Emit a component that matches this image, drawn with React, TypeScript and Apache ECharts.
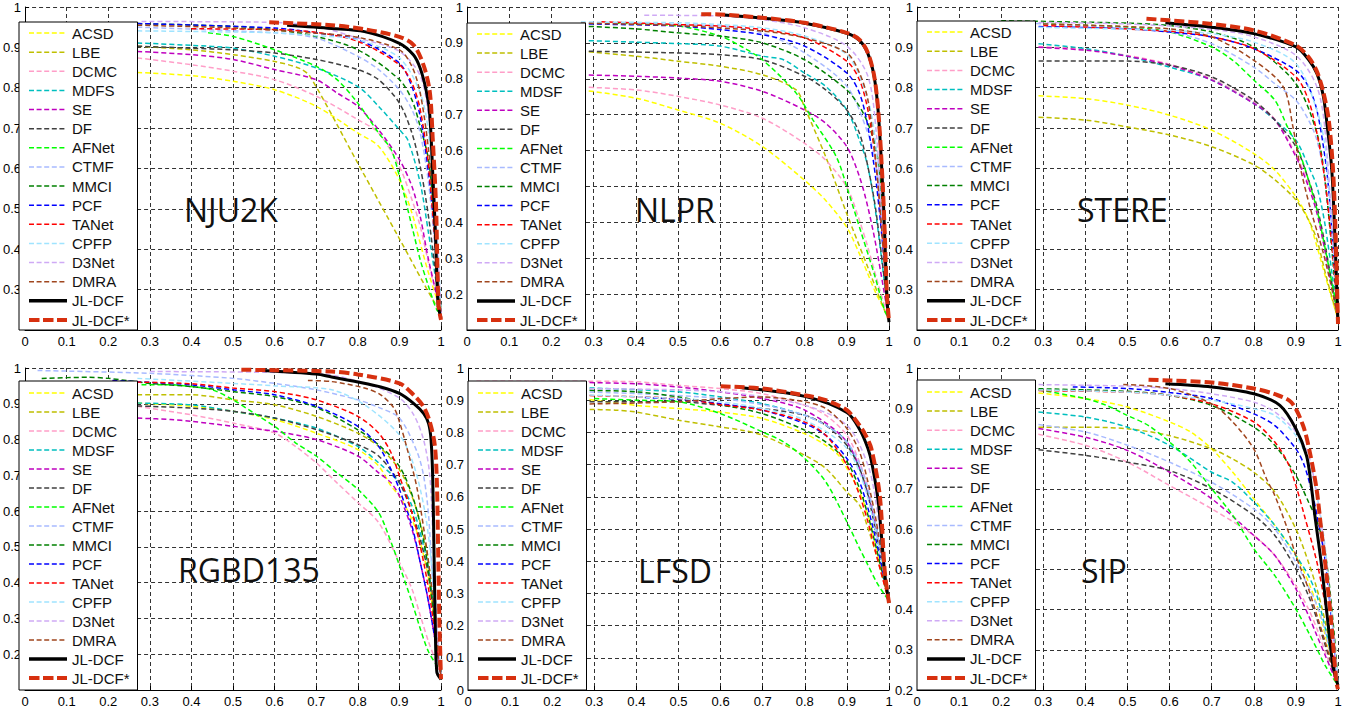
import React, { useEffect, useRef } from "react";
import * as echarts from "echarts";

// ---------- DATA ----------
const methods = ["ACSD", "LBE", "DCMC", "MDSF", "SE", "DF", "AFNet", "CTMF", "MMCI", "PCF", "TANet", "CPFP", "D3Net", "DMRA", "JL-DCF", "JL-DCF*"];
// NJU2K panel legend spells it "MDFS"
const methodsNJU2K = ["ACSD", "LBE", "DCMC", "MDFS", "SE", "DF", "AFNet", "CTMF", "MMCI", "PCF", "TANet", "CPFP", "D3Net", "DMRA", "JL-DCF", "JL-DCF*"];
const datasets = ["NJU2K", "NLPR", "STERE", "RGBD135", "LFSD", "SIP"];
const yMins = [0.2, 0.1, 0.2, 0.1, 0, 0.2];
const hideYMinLabel = [true, true, true, true, false, false];
const xTicks = [0, 0.1, 0.2, 0.3, 0.4, 0.5, 0.6, 0.7, 0.8, 0.9, 1];

// each curve: [recall, precision] points, in the order of `methods`
const nju2k = [
  [[0.27,0.838],[0.4,0.83],[0.5,0.816],[0.6,0.795],[0.7,0.754],[0.8,0.688],[0.85,0.655],[0.9,0.572],[0.93,0.49],[0.95,0.415],[0.97,0.341],[1,0.246]],
  [[0.27,0.903],[0.4,0.894],[0.5,0.882],[0.6,0.865],[0.66,0.848],[0.685,0.828],[0.8,0.613],[0.9,0.426],[0.99,0.258],[1,0.25]],
  [[0.27,0.874],[0.4,0.857],[0.5,0.841],[0.6,0.82],[0.7,0.779],[0.8,0.721],[0.85,0.688],[0.9,0.605],[0.93,0.523],[0.95,0.457],[0.97,0.366],[1,0.242]],
  [[0.27,0.911],[0.4,0.905],[0.5,0.898],[0.6,0.878],[0.7,0.849],[0.8,0.803],[0.85,0.754],[0.9,0.696],[0.92,0.671],[0.95,0.564],[0.97,0.44],[1,0.242]],
  [[0.27,0.89],[0.4,0.882],[0.5,0.87],[0.6,0.845],[0.7,0.82],[0.75,0.787],[0.8,0.754],[0.85,0.696],[0.9,0.622],[0.93,0.556],[0.95,0.481],[0.97,0.374],[1,0.242]],
  [[0.27,0.903],[0.4,0.898],[0.5,0.894],[0.6,0.886],[0.7,0.87],[0.8,0.845],[0.85,0.82],[0.9,0.762],[0.93,0.688],[0.95,0.605],[0.97,0.481],[0.99,0.316],[1,0.242]],
  [[0.44,0.936],[0.5,0.927],[0.6,0.894],[0.7,0.853],[0.75,0.82],[0.8,0.762],[0.85,0.688],[0.88,0.647],[0.9,0.581],[0.93,0.457],[0.95,0.374],[0.97,0.308],[0.99,0.25],[1,0.242]],
  [[0.27,0.95],[0.6,0.936],[0.7,0.923],[0.8,0.878],[0.85,0.845],[0.9,0.795],[0.93,0.746],[0.95,0.688],[0.97,0.564],[0.99,0.358],[1,0.242]],
  [[0.27,0.959],[0.5,0.952],[0.6,0.944],[0.7,0.927],[0.8,0.894],[0.9,0.82],[0.93,0.77],[0.95,0.704],[0.97,0.622],[0.98,0.523],[1,0.25]],
  [[0.27,0.959],[0.6,0.948],[0.7,0.936],[0.8,0.919],[0.9,0.861],[0.93,0.803],[0.95,0.729],[0.97,0.589],[0.985,0.44],[1,0.234]],
  [[0.4,0.946],[0.6,0.944],[0.7,0.937],[0.8,0.915],[0.9,0.857],[0.93,0.812],[0.95,0.746],[0.97,0.605],[0.99,0.358],[1,0.234]],
  [[0.27,0.941],[0.5,0.938],[0.6,0.936],[0.7,0.929],[0.8,0.919],[0.9,0.874],[0.95,0.787],[0.97,0.688],[0.99,0.44],[1,0.242]],
  [[0.28,0.964],[0.6,0.962],[0.7,0.952],[0.8,0.923],[0.9,0.89],[0.95,0.83],[0.97,0.729],[0.98,0.605],[1,0.242]],
  [[0.27,0.955],[0.5,0.948],[0.7,0.935],[0.8,0.925],[0.9,0.894],[0.93,0.853],[0.95,0.787],[0.97,0.647],[0.98,0.523],[0.99,0.358],[1,0.242]],
  [[0.63,0.955],[0.737,0.947],[0.816,0.939],[0.9,0.91],[0.934,0.881],[0.95,0.848],[0.965,0.79],[0.973,0.733],[0.98,0.592],[0.987,0.428],[0.993,0.262],[1,0.23]],
  [[0.587,0.962],[0.737,0.955],[0.816,0.945],[0.9,0.926],[0.934,0.906],[0.958,0.856],[0.973,0.79],[0.98,0.676],[0.988,0.51],[0.994,0.262],[1,0.225]],
];

const nlpr = [
  [[0.27,0.769],[0.4,0.746],[0.5,0.713],[0.6,0.676],[0.7,0.611],[0.8,0.517],[0.85,0.461],[0.9,0.386],[0.93,0.312],[0.95,0.256],[0.97,0.2],[1,0.134]],
  [[0.27,0.877],[0.4,0.863],[0.5,0.849],[0.6,0.835],[0.7,0.811],[0.78,0.769],[0.8,0.72],[0.85,0.583],[0.9,0.424],[0.95,0.274],[0.99,0.153],[1,0.13]],
  [[0.27,0.777],[0.4,0.769],[0.5,0.751],[0.6,0.727],[0.7,0.69],[0.8,0.62],[0.85,0.573],[0.9,0.498],[0.93,0.405],[0.95,0.33],[0.97,0.246],[1,0.125]],
  [[0.27,0.907],[0.4,0.902],[0.5,0.898],[0.6,0.891],[0.7,0.863],[0.75,0.853],[0.8,0.816],[0.85,0.779],[0.9,0.713],[0.93,0.629],[0.95,0.555],[0.97,0.414],[1,0.125]],
  [[0.27,0.811],[0.4,0.807],[0.5,0.802],[0.6,0.793],[0.7,0.765],[0.8,0.713],[0.85,0.676],[0.9,0.611],[0.93,0.527],[0.95,0.442],[0.97,0.33],[1,0.125]],
  [[0.27,0.877],[0.5,0.872],[0.6,0.867],[0.7,0.853],[0.8,0.807],[0.85,0.769],[0.9,0.713],[0.93,0.648],[0.95,0.555],[0.97,0.424],[1,0.125]],
  [[0.35,0.955],[0.5,0.947],[0.6,0.919],[0.65,0.89],[0.7,0.853],[0.78,0.76],[0.82,0.685],[0.875,0.583],[0.905,0.48],[0.935,0.368],[0.965,0.256],[0.99,0.153],[1,0.13]],
  [[0.27,0.955],[0.6,0.947],[0.7,0.928],[0.8,0.872],[0.9,0.779],[0.95,0.648],[0.97,0.555],[1,0.125]],
  [[0.27,0.947],[0.4,0.939],[0.5,0.928],[0.6,0.919],[0.7,0.9],[0.8,0.853],[0.9,0.769],[0.93,0.723],[0.95,0.676],[0.97,0.601],[0.98,0.508],[1,0.13]],
  [[0.27,0.953],[0.5,0.947],[0.6,0.937],[0.7,0.923],[0.8,0.891],[0.9,0.816],[0.93,0.76],[0.95,0.667],[0.97,0.508],[0.99,0.274],[1,0.125]],
  [[0.318,0.959],[0.5,0.951],[0.6,0.947],[0.7,0.937],[0.8,0.914],[0.9,0.849],[0.93,0.797],[0.95,0.713],[0.97,0.555],[0.99,0.274],[1,0.125]],
  [[0.27,0.958],[0.5,0.956],[0.6,0.951],[0.7,0.942],[0.8,0.919],[0.9,0.867],[0.95,0.741],[0.97,0.601],[1,0.125]],
  [[0.42,0.977],[0.6,0.975],[0.7,0.965],[0.8,0.942],[0.9,0.891],[0.95,0.807],[0.97,0.648],[0.98,0.461],[1,0.125]],
  [[0.27,0.955],[0.5,0.948],[0.7,0.933],[0.8,0.914],[0.9,0.872],[0.93,0.816],[0.95,0.741],[0.97,0.555],[0.99,0.274],[1,0.125]],
  [[0.61,0.978],[0.7,0.969],[0.8,0.955],[0.9,0.927],[0.93,0.907],[0.95,0.87],[0.965,0.805],[0.975,0.7],[0.985,0.5],[0.99,0.36],[0.995,0.19],[1,0.122]],
  [[0.555,0.98],[0.6,0.979],[0.7,0.97],[0.8,0.956],[0.9,0.928],[0.93,0.909],[0.95,0.872],[0.965,0.807],[0.975,0.704],[0.985,0.508],[0.99,0.368],[0.995,0.2],[1,0.125]],
];

const stere = [
  [[0.27,0.781],[0.4,0.773],[0.5,0.757],[0.6,0.732],[0.7,0.695],[0.8,0.637],[0.85,0.596],[0.9,0.53],[0.93,0.473],[0.95,0.407],[0.97,0.333],[1,0.226]],
  [[0.27,0.728],[0.4,0.72],[0.5,0.703],[0.6,0.683],[0.7,0.654],[0.8,0.609],[0.85,0.572],[0.9,0.522],[0.93,0.473],[0.95,0.423],[0.97,0.341],[1,0.226]],
  [[0.27,0.903],[0.4,0.895],[0.5,0.88],[0.6,0.858],[0.7,0.822],[0.8,0.765],[0.85,0.722],[0.9,0.635],[0.93,0.56],[0.95,0.493],[0.97,0.395],[1,0.226]],
  [[0.27,0.911],[0.4,0.897],[0.5,0.878],[0.6,0.851],[0.7,0.819],[0.8,0.761],[0.85,0.72],[0.9,0.67],[0.93,0.605],[0.95,0.555],[0.97,0.456],[1,0.226]],
  [[0.27,0.901],[0.4,0.893],[0.5,0.878],[0.6,0.856],[0.7,0.819],[0.8,0.761],[0.85,0.72],[0.9,0.629],[0.93,0.555],[0.95,0.489],[0.97,0.391],[1,0.226]],
  [[0.27,0.866],[0.4,0.866],[0.5,0.866],[0.6,0.856],[0.7,0.827],[0.8,0.769],[0.85,0.72],[0.9,0.654],[0.93,0.572],[0.95,0.506],[0.97,0.407],[1,0.226]],
  [[0.3,0.958],[0.5,0.95],[0.6,0.938],[0.7,0.901],[0.75,0.868],[0.8,0.819],[0.85,0.769],[0.88,0.703],[0.9,0.662],[0.92,0.605],[0.95,0.498],[0.97,0.399],[0.99,0.292],[1,0.226]],
  [[0.13,0.964],[0.3,0.958],[0.6,0.938],[0.7,0.909],[0.8,0.851],[0.85,0.81],[0.9,0.769],[0.93,0.72],[0.95,0.67],[0.97,0.563],[1,0.226]],
  [[0.2,0.966],[0.5,0.96],[0.6,0.954],[0.7,0.938],[0.8,0.901],[0.9,0.81],[0.95,0.687],[0.97,0.563],[1,0.226]],
  [[0.27,0.952],[0.5,0.946],[0.6,0.938],[0.7,0.926],[0.8,0.897],[0.9,0.843],[0.93,0.802],[0.95,0.744],[0.97,0.621],[0.98,0.522],[1,0.226]],
  [[0.3,0.954],[0.6,0.94],[0.7,0.926],[0.8,0.897],[0.9,0.827],[0.93,0.769],[0.95,0.687],[0.97,0.563],[0.99,0.358],[1,0.226]],
  [[0.27,0.95],[0.6,0.942],[0.7,0.934],[0.8,0.913],[0.9,0.86],[0.95,0.744],[0.97,0.646],[1,0.226]],
  [[0.27,0.962],[0.5,0.958],[0.7,0.945],[0.8,0.926],[0.9,0.88],[0.95,0.802],[0.97,0.687],[1,0.226]],
  [[0.3,0.958],[0.6,0.946],[0.7,0.926],[0.8,0.868],[0.87,0.802],[0.893,0.703],[0.91,0.605],[0.933,0.506],[0.965,0.391],[0.99,0.28],[1,0.226]],
  [[0.59,0.961],[0.7,0.95],[0.8,0.934],[0.9,0.901],[0.93,0.87],[0.95,0.835],[0.965,0.78],[0.975,0.7],[0.985,0.6],[0.992,0.45],[1,0.218]],
  [[0.545,0.971],[0.6,0.967],[0.7,0.958],[0.8,0.942],[0.9,0.905],[0.93,0.876],[0.95,0.84],[0.965,0.79],[0.978,0.72],[0.988,0.6],[0.994,0.45],[1,0.215]],
];

const rgbd135 = [
  [[0.27,0.902],[0.4,0.893],[0.5,0.879],[0.6,0.856],[0.7,0.818],[0.8,0.772],[0.85,0.726],[0.88,0.67],[0.9,0.642],[0.93,0.577],[0.95,0.513],[0.97,0.411],[1,0.142]],
  [[0.27,0.925],[0.4,0.925],[0.5,0.911],[0.6,0.897],[0.7,0.865],[0.8,0.818],[0.85,0.781],[0.9,0.716],[0.93,0.642],[0.95,0.568],[0.97,0.457],[1,0.142]],
  [[0.27,0.893],[0.4,0.869],[0.5,0.846],[0.6,0.818],[0.65,0.781],[0.7,0.735],[0.75,0.679],[0.8,0.624],[0.85,0.568],[0.9,0.457],[0.93,0.383],[0.95,0.309],[0.97,0.235],[1,0.142]],
  [[0.27,0.902],[0.4,0.897],[0.5,0.879],[0.6,0.86],[0.7,0.832],[0.8,0.781],[0.85,0.735],[0.9,0.679],[0.93,0.615],[0.95,0.54],[0.97,0.438],[1,0.142]],
  [[0.27,0.86],[0.35,0.856],[0.4,0.851],[0.5,0.837],[0.6,0.823],[0.7,0.8],[0.8,0.754],[0.85,0.707],[0.88,0.679],[0.9,0.642],[0.93,0.55],[0.95,0.457],[0.97,0.346],[1,0.142]],
  [[0.27,0.894],[0.4,0.888],[0.5,0.879],[0.6,0.86],[0.7,0.828],[0.8,0.786],[0.85,0.754],[0.9,0.679],[0.93,0.596],[0.95,0.522],[0.97,0.42],[1,0.142]],
  [[0.28,0.953],[0.35,0.953],[0.4,0.948],[0.45,0.939],[0.5,0.911],[0.55,0.874],[0.6,0.837],[0.65,0.791],[0.7,0.754],[0.75,0.707],[0.8,0.661],[0.85,0.596],[0.88,0.513],[0.9,0.448],[0.93,0.346],[0.95,0.272],[0.97,0.207],[1,0.151]],
  [[0.03,0.993],[0.3,0.985],[0.5,0.971],[0.6,0.957],[0.7,0.939],[0.8,0.911],[0.85,0.89],[0.9,0.86],[0.942,0.767],[0.958,0.7],[0.97,0.59],[0.98,0.405],[1,0.142]],
  [[0.04,0.971],[0.15,0.974],[0.2,0.971],[0.3,0.957],[0.4,0.948],[0.5,0.934],[0.6,0.92],[0.7,0.89],[0.8,0.827],[0.85,0.785],[0.9,0.725],[0.934,0.633],[0.958,0.52],[0.973,0.405],[1,0.142]],
  [[0.21,0.965],[0.4,0.953],[0.5,0.939],[0.6,0.925],[0.7,0.893],[0.8,0.837],[0.85,0.781],[0.88,0.716],[0.9,0.661],[0.93,0.559],[0.95,0.457],[0.97,0.346],[1,0.142]],
  [[0.21,0.962],[0.4,0.956],[0.5,0.944],[0.6,0.934],[0.7,0.911],[0.8,0.865],[0.85,0.818],[0.88,0.763],[0.9,0.698],[0.93,0.596],[0.95,0.503],[0.97,0.383],[1,0.142]],
  [[0.27,0.971],[0.5,0.957],[0.6,0.95],[0.737,0.939],[0.816,0.897],[0.9,0.813],[0.934,0.73],[0.958,0.618],[0.973,0.5],[1,0.142]],
  [[0.3,0.99],[0.7,0.985],[0.816,0.958],[0.9,0.916],[0.934,0.87],[0.958,0.8],[0.973,0.7],[0.98,0.543],[0.99,0.265],[1,0.142]],
  [[0.68,0.965],[0.737,0.962],[0.816,0.944],[0.855,0.925],[0.887,0.888],[0.9,0.85],[0.918,0.777],[0.942,0.666],[0.965,0.5],[0.98,0.36],[0.995,0.173],[1,0.14]],
  [[0.57,0.993],[0.7,0.983],[0.737,0.975],[0.8,0.961],[0.855,0.947],[0.9,0.929],[0.934,0.901],[0.958,0.873],[0.97,0.845],[0.976,0.8],[0.98,0.697],[0.983,0.5],[0.986,0.3],[0.99,0.15],[1,0.13]],
  [[0.52,0.995],[0.6,0.994],[0.737,0.99],[0.8,0.982],[0.9,0.957],[0.934,0.925],[0.958,0.892],[0.973,0.85],[0.985,0.785],[0.99,0.683],[0.993,0.5],[0.996,0.3],[1,0.13]],
];

const lfsd = [
  [[0.27,0.905],[0.4,0.884],[0.5,0.874],[0.6,0.863],[0.7,0.843],[0.8,0.796],[0.85,0.76],[0.88,0.729],[0.9,0.688],[0.93,0.615],[0.95,0.543],[0.97,0.44],[1,0.274]],
  [[0.27,0.872],[0.35,0.869],[0.4,0.863],[0.5,0.838],[0.6,0.817],[0.65,0.807],[0.7,0.791],[0.8,0.729],[0.85,0.688],[0.9,0.615],[0.93,0.574],[0.95,0.502],[0.97,0.419],[1,0.274]],
  [[0.02,0.959],[0.28,0.959],[0.4,0.957],[0.5,0.946],[0.6,0.936],[0.7,0.92],[0.8,0.884],[0.85,0.853],[0.9,0.791],[0.93,0.708],[0.95,0.626],[0.97,0.502],[1,0.274]],
  [[0.27,0.939],[0.5,0.926],[0.6,0.91],[0.7,0.889],[0.8,0.853],[0.85,0.822],[0.9,0.77],[0.95,0.615],[0.97,0.502],[1,0.274]],
  [[0.27,0.955],[0.4,0.951],[0.5,0.941],[0.6,0.926],[0.7,0.905],[0.8,0.869],[0.9,0.77],[0.95,0.605],[0.97,0.491],[1,0.274]],
  [[0.27,0.895],[0.4,0.895],[0.5,0.895],[0.6,0.884],[0.7,0.874],[0.8,0.853],[0.85,0.822],[0.9,0.76],[0.93,0.688],[0.95,0.605],[0.97,0.481],[1,0.274]],
  [[0.3,0.905],[0.4,0.9],[0.5,0.895],[0.6,0.858],[0.7,0.801],[0.75,0.77],[0.8,0.719],[0.85,0.646],[0.9,0.522],[0.93,0.44],[0.95,0.388],[0.97,0.336],[0.99,0.295],[1,0.279]],
  [[0.27,0.926],[0.6,0.905],[0.8,0.853],[0.9,0.77],[0.95,0.626],[1,0.274]],
  [[0.27,0.931],[0.4,0.926],[0.5,0.91],[0.6,0.886],[0.7,0.858],[0.8,0.807],[0.85,0.77],[0.9,0.708],[0.93,0.626],[0.95,0.543],[0.97,0.44],[1,0.274]],
  [[0.42,0.908],[0.5,0.903],[0.6,0.889],[0.7,0.869],[0.8,0.827],[0.85,0.791],[0.9,0.719],[0.93,0.646],[0.95,0.564],[0.97,0.46],[1,0.274]],
  [[0.27,0.915],[0.5,0.905],[0.6,0.886],[0.7,0.869],[0.8,0.832],[0.85,0.791],[0.9,0.698],[0.93,0.605],[0.95,0.522],[0.97,0.419],[1,0.274]],
  [[0.27,0.917],[0.5,0.905],[0.6,0.895],[0.7,0.874],[0.8,0.838],[0.9,0.75],[0.95,0.595],[1,0.274]],
  [[0.27,0.936],[0.6,0.926],[0.8,0.884],[0.9,0.822],[0.95,0.698],[0.97,0.574],[1,0.274]],
  [[0.27,0.888],[0.5,0.895],[0.6,0.905],[0.7,0.91],[0.8,0.895],[0.85,0.874],[0.9,0.812],[0.93,0.739],[0.95,0.646],[0.97,0.522],[1,0.274]],
  [[0.65,0.939],[0.8,0.912],[0.9,0.862],[0.93,0.81],[0.95,0.75],[0.96,0.7],[0.975,0.58],[0.99,0.36],[1,0.27]],
  [[0.6,0.943],[0.7,0.936],[0.8,0.915],[0.85,0.9],[0.9,0.869],[0.93,0.822],[0.945,0.79],[0.958,0.75],[0.978,0.605],[0.99,0.367],[1,0.27]],
];

const sip = [
  [[0.27,0.94],[0.4,0.924],[0.5,0.903],[0.6,0.866],[0.65,0.841],[0.7,0.799],[0.75,0.741],[0.8,0.675],[0.85,0.609],[0.9,0.534],[0.93,0.468],[0.95,0.41],[0.97,0.335],[1,0.211]],
  [[0.27,0.853],[0.4,0.853],[0.5,0.849],[0.6,0.832],[0.7,0.799],[0.75,0.774],[0.8,0.741],[0.85,0.692],[0.9,0.6],[0.93,0.517],[0.95,0.451],[0.97,0.368],[1,0.211]],
  [[0.27,0.839],[0.4,0.808],[0.5,0.766],[0.6,0.708],[0.7,0.65],[0.8,0.584],[0.85,0.534],[0.9,0.459],[0.93,0.401],[0.95,0.352],[0.97,0.294],[1,0.211]],
  [[0.27,0.892],[0.4,0.878],[0.5,0.853],[0.6,0.808],[0.7,0.741],[0.75,0.716],[0.8,0.667],[0.85,0.609],[0.9,0.534],[0.93,0.484],[0.95,0.434],[0.97,0.352],[1,0.211]],
  [[0.27,0.853],[0.4,0.828],[0.5,0.795],[0.6,0.741],[0.7,0.675],[0.8,0.584],[0.85,0.534],[0.9,0.451],[0.93,0.385],[0.95,0.335],[0.97,0.285],[1,0.211]],
  [[0.27,0.799],[0.4,0.783],[0.5,0.766],[0.6,0.745],[0.7,0.7],[0.8,0.634],[0.85,0.584],[0.9,0.501],[0.93,0.434],[0.95,0.376],[0.97,0.31],[1,0.211]],
  [[0.27,0.949],[0.4,0.924],[0.45,0.907],[0.5,0.882],[0.55,0.857],[0.6,0.816],[0.65,0.766],[0.7,0.7],[0.75,0.634],[0.8,0.551],[0.85,0.484],[0.9,0.401],[0.93,0.343],[0.95,0.302],[0.97,0.26],[1,0.211]],
  [[0.27,0.862],[0.4,0.841],[0.5,0.808],[0.6,0.766],[0.7,0.716],[0.8,0.65],[0.85,0.6],[0.9,0.517],[0.95,0.41],[0.97,0.343],[1,0.211]],
  [[0.27,0.949],[0.5,0.942],[0.6,0.932],[0.7,0.907],[0.8,0.853],[0.85,0.808],[0.9,0.733],[0.93,0.667],[0.95,0.62],[0.97,0.54],[0.99,0.35],[1,0.219]],
  [[0.37,0.953],[0.5,0.949],[0.6,0.939],[0.7,0.924],[0.8,0.886],[0.85,0.857],[0.9,0.799],[0.92,0.758],[0.94,0.683],[0.95,0.634],[0.97,0.517],[1,0.211]],
  [[0.27,0.944],[0.5,0.94],[0.6,0.932],[0.7,0.911],[0.8,0.866],[0.85,0.816],[0.88,0.766],[0.9,0.708],[0.92,0.634],[0.95,0.517],[0.97,0.41],[0.99,0.285],[1,0.211]],
  [[0.27,0.946],[0.5,0.94],[0.6,0.932],[0.7,0.92],[0.8,0.899],[0.85,0.882],[0.9,0.832],[0.93,0.766],[0.95,0.683],[0.97,0.551],[1,0.211]],
  [[0.27,0.959],[0.5,0.955],[0.6,0.949],[0.7,0.936],[0.8,0.915],[0.85,0.891],[0.9,0.841],[0.93,0.783],[0.95,0.683],[0.97,0.534],[0.99,0.327],[1,0.211]],
  [[0.49,0.959],[0.6,0.949],[0.7,0.911],[0.75,0.866],[0.8,0.799],[0.83,0.725],[0.85,0.683],[0.88,0.6],[0.9,0.534],[0.93,0.451],[0.95,0.385],[0.97,0.318],[1,0.211]],
  [[0.59,0.961],[0.7,0.953],[0.8,0.936],[0.862,0.907],[0.9,0.849],[0.925,0.783],[0.935,0.72],[0.945,0.634],[0.96,0.517],[0.976,0.368],[0.988,0.26],[1,0.211]],
  [[0.55,0.971],[0.6,0.969],[0.7,0.964],[0.8,0.949],[0.85,0.935],[0.889,0.915],[0.917,0.857],[0.933,0.791],[0.949,0.7],[0.96,0.6],[0.972,0.493],[0.984,0.368],[0.996,0.22],[1,0.202]],
];

const panelCurves = [nju2k, nlpr, stere, rgbd135, lfsd, sip];

// ---------- STYLE ----------
const colors = ["#ffff00", "#bfbf00", "#ff9ec8", "#00bfbf", "#bf00bf", "#404040", "#00ff00", "#a8baff", "#008000", "#0000ff", "#ff0000", "#a0e4ff", "#cfaaf5", "#a0461e", "#000000", "#d7300f"];
const widths = [1.5, 1.5, 1.5, 1.5, 1.5, 1.5, 1.5, 1.5, 1.5, 1.5, 1.5, 1.5, 1.5, 1.5, 3, 4];
const dashes: any[] = [[5, 3], [5, 3], [5, 3], [5, 3], [5, 3], [5, 3], [5, 3], [5, 3], [5, 3], [5, 3], [5, 3], [5, 3], [5, 3], [5, 3], "solid", [10, 4]];
const legendWidths = [1.5, 1.5, 1.5, 1.5, 1.5, 1.5, 1.5, 1.5, 1.5, 1.5, 1.5, 1.5, 1.5, 1.5, 3.5, 4];
const legendDashes: any[] = [[5, 2.6], [5, 2.6], [5, 2.6], [5, 2.6], [5, 2.6], [5, 2.6], [5, 2.6], [5, 2.6], [5, 2.6], [5, 2.6], [5, 2.6], [5, 2.6], [5, 2.6], [5, 2.6], "solid", [10.5, 3.5]];

const grids = [
  { left: 19, top: 7, width: 422, height: 323 },
  { left: 467, top: 7, width: 422, height: 323 },
  { left: 917, top: 7, width: 421, height: 323 },
  { left: 19, top: 368, width: 422, height: 322 },
  { left: 468, top: 368, width: 421, height: 322 },
  { left: 917, top: 368, width: 421, height: 322 },
];
const legendTops = [22, 23, 21, 381, 381, 380];
const titlePos = [
  [184, 212], [635, 212], [1077, 212], [178, 572], [638, 573], [1081, 573],
];

const fmt = (v: number) => String(parseFloat(v.toFixed(2)));
const FONT = "Liberation Sans, Arial, sans-serif";

function buildOption() {
  const xAxis: any[] = [];
  const yAxis: any[] = [];
  const series: any[] = [];
  const legend: any[] = [];
  const graphic: any[] = [];

  for (let p = 0; p < 6; p++) {
    const yMin = yMins[p];
    const hide = hideYMinLabel[p];
    xAxis.push({
      type: "value", gridIndex: p, min: xTicks[0], max: xTicks[xTicks.length - 1], interval: 0.1,
      axisLine: { show: true, onZero: false, lineStyle: { color: "#000", width: 1 } },
      axisTick: { show: true, inside: true, length: 4, lineStyle: { color: "#000" } },
      axisLabel: { show: true, margin: 5, color: "#000", fontSize: 13, fontFamily: FONT, formatter: (v: number) => fmt(v) },
      splitLine: { show: true, lineStyle: { color: "#333", width: 1, type: [4, 3] } },
    });
    yAxis.push({
      type: "value", gridIndex: p, min: yMin, max: 1, interval: 0.1,
      axisLine: { show: true, onZero: false, lineStyle: { color: "#000", width: 1 } },
      axisTick: { show: true, inside: true, length: 4, lineStyle: { color: "#000" } },
      axisLabel: {
        show: true, margin: 4, color: "#000", fontSize: 13, fontFamily: FONT,
        formatter: (v: number) => (hide && Math.abs(v - yMin) < 1e-6 ? "" : fmt(v)),
      },
      splitLine: { show: true, lineStyle: { color: "#333", width: 1, type: [4, 3] } },
    });

    const names = p === 0 ? methodsNJU2K : methods;
    const curves = panelCurves[p];
    for (let i = 0; i < names.length; i++) {
      series.push({
        type: "line", name: names[i], xAxisIndex: p, yAxisIndex: p,
        data: curves[i], symbol: "none", showSymbol: false, smooth: 0.3,
        lineStyle: { color: colors[i], width: widths[i], type: dashes[i] },
        emphasis: { disabled: true }, silent: true, z: i >= 14 ? 3 : 2,
      });
    }

    const g = grids[p];
    const boxTop = legendTops[p];
    const boxH = g.top + g.height - boxTop;
    const padT = p < 3 ? 3.5 : 4.5;
    const padB = p < 3 ? 2.5 : 4.5;
    const itemH = 15;
    const gap = (boxH - padT - padB - itemH * names.length) / (names.length - 1);
    legend.push({
      show: true, orient: "vertical", left: g.left, top: boxTop,
      itemWidth: 38, itemHeight: itemH, itemGap: gap,
      padding: [padT, 8, padB, 8],
      backgroundColor: "#fff", borderColor: "#000", borderWidth: 1, borderRadius: 0,
      selectedMode: false,
      itemStyle: { opacity: 0 },
      textStyle: { fontSize: 15, fontFamily: FONT, color: "#111", lineHeight: 15 },
      data: names.map((n, i) => ({
        name: n,
        itemStyle: { opacity: 0 },
        lineStyle: { color: colors[i], width: legendWidths[i], type: legendDashes[i], opacity: 1 },
      })),
    });

    graphic.push({
      type: "text", left: titlePos[p][0], top: titlePos[p][1] - 19, z: 100, silent: true,
      style: { text: datasets[p], fontSize: 32, fontFamily: "Open Sans, Noto Sans, sans-serif", fill: "#111" },
    });
  }

  return {
    animation: false,
    backgroundColor: "#fff",
    grid: grids.map((g) => ({ ...g, containLabel: false, show: false })),
    xAxis, yAxis, series, legend, graphic,
    tooltip: { show: false },
  };
}

export default function App() {
  const ref = useRef<HTMLDivElement>(null);
  useEffect(() => {
    if (!ref.current) return;
    const chart = echarts.init(ref.current, undefined, { renderer: "svg" });
    chart.setOption(buildOption() as any);
    return () => chart.dispose();
  }, []);
  return <div ref={ref} style={{ position: "absolute", left: 0, top: 0, width: 1354, height: 709, background: "#fff" }} />;
}
